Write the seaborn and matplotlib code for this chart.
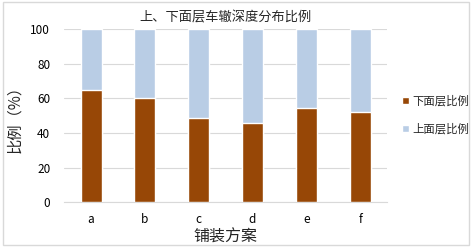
import pandas as pd
import numpy as np
import matplotlib
matplotlib.use("Agg")
import matplotlib.pyplot as plt
import seaborn as sns
from matplotlib.patches import Rectangle, Patch

sns.set_style("white")
plt.rcParams['font.family'] = ['Noto Sans CJK SC', 'DejaVu Sans']

# Data
schemes = ['a', 'b', 'c', 'd', 'e', 'f']
lower_pct = [64.9, 60.0, 48.6, 45.9, 54.2, 52.1]   # 下面层比例
upper_pct = [35.1, 40.0, 51.4, 54.1, 45.8, 47.9]   # 上面层比例

lower_color = '#974706'
upper_color = '#B9CDE5'

df = pd.DataFrame({'方案': schemes, 'lower': lower_pct, 'upper': upper_pct})
df['total'] = df['lower'] + df['upper']

fig = plt.figure(figsize=(4.72, 2.47), dpi=100)
ax = fig.add_axes([0.136, 0.182, 0.684, 0.699])

# stacked bars: full height in light blue first, lower layer drawn on top
sns.barplot(data=df, x='方案', y='total', color=upper_color, width=0.39,
            saturation=1, ax=ax, zorder=2)
sns.barplot(data=df, x='方案', y='lower', color=lower_color, width=0.39,
            saturation=1, ax=ax, zorder=3)

ax.set_ylim(0, 100)
ax.set_yticks([0, 20, 40, 60, 80, 100])
ax.set_xlim(-0.5, 5.5)
ax.grid(axis='y', color='#D9D9D9', linewidth=0.8, zorder=0)
ax.set_axisbelow(True)
for s in ['top', 'right', 'left']:
    ax.spines[s].set_visible(False)
ax.spines['bottom'].set_color('#D9D9D9')
ax.tick_params(axis='both', length=0, labelsize=8.5, colors='#000000', pad=8)
ax.tick_params(axis='y', pad=10)

ax.set_title('上、下面层车辙深度分布比例', fontsize=9.5, pad=6)
ax.set_xlabel('铺装方案', fontsize=11.5, labelpad=2)
ax.set_ylabel('比例（%）', fontsize=11, labelpad=5)

handles = [Patch(facecolor=lower_color), Patch(facecolor=upper_color)]
fig.legend(handles, ['下面层比例', '上面层比例'], loc='center left',
           bbox_to_anchor=(0.852, 0.535), frameon=False, fontsize=8.2,
           borderpad=0, borderaxespad=0,
           handlelength=0.6, handleheight=0.6, handletextpad=0.3,
           labelspacing=1.5)

# light outer frame like the original chart box
fig.patches.append(Rectangle((0.006, 0.008), 0.988, 0.984, transform=fig.transFigure,
                             fill=False, edgecolor='#D9D9D9', linewidth=1))

fig.savefig('out.png', dpi=100)
